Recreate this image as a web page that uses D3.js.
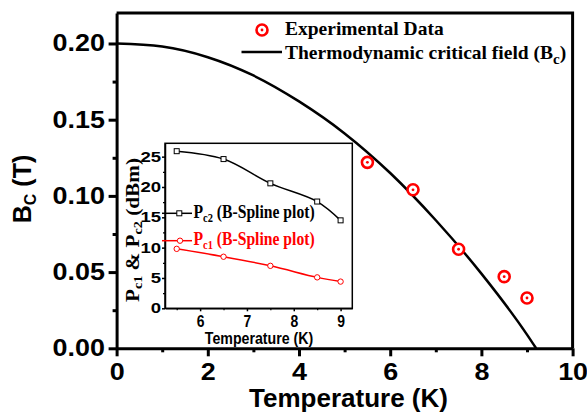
<!DOCTYPE html>
<html>
<head>
<meta charset="utf-8">
<script src="https://cdn.jsdelivr.net/npm/d3@7/dist/d3.min.js"></script>
<style>
  body { margin: 0; background: #fff; }
  .sans { font-family: "Liberation Sans", Arial, sans-serif; font-weight: bold; }
  .serif { font-family: "Liberation Serif", "Times New Roman", serif; font-weight: bold; }
</style>
</head>
<body>
<svg id="chart" width="587" height="418"></svg>
<script>
"use strict";

//data ************************************************************
var tempExp = [5.5, 6.5, 7.5, 8.5, 9.0];
var bcExp = [0.122, 0.104, 0.065, 0.047, 0.033];

var tempFit = [0, 1, 2, 3, 4, 5, 6, 7, 8, 9, 9.2];
var bcFit = [0.200, 0.198, 0.191, 0.179, 0.162, 0.141, 0.115, 0.084, 0.049, 0.009, 0.000];

var tempInset = [5.5, 6.5, 7.5, 8.5, 9.0];
var pc2 = [25.9, 24.6, 20.6, 17.6, 14.5];
var pc1 = [9.8, 8.5, 7.0, 5.1, 4.4];

var xTicks = [0, 2, 4, 6, 8, 10];
var xMinor = [1, 3, 5, 7, 9];
var yTicks = [0, 0.05, 0.10, 0.15, 0.20];
var yMinor = [0.025, 0.075, 0.125, 0.175];
var inXTicks = [6, 7, 8, 9];
var inXMinor = [5.5, 6.5, 7.5, 8.5];
var inYTicks = [0, 5, 10, 15, 20, 25];
var inYMinor = [2.5, 7.5, 12.5, 17.5, 22.5];

//variables ************************************************************
var svg = d3.select("#chart");
var mLeft = 116.6, mRight = 572.6, mTop = 13, mBottom = 348.3;
var x = d3.scaleLinear().domain([0, 10]).range([mLeft, mRight]);
var y = d3.scaleLinear().domain([0, 0.22]).range([mBottom, mTop]);

var iLeft = 165, iRight = 352.3, iTop = 143.3, iBottom = 308.3;
var ix = d3.scaleLinear().domain([5.25, 9.25]).range([iLeft, iRight]);
var iy = d3.scaleLinear().domain([0, 27.2]).range([iBottom, iTop]);

//main frame + axes ************************************************************
svg.append("path")
  .attr("d", "M" + mLeft + "," + mTop + "H" + mRight + "V" + mBottom)
  .attr("fill", "none").attr("stroke", "#000").attr("stroke-width", 3);

function styleAxis(g, w) {
  g.selectAll("path,line").attr("stroke", "#000").attr("stroke-width", w);
}

var gx = svg.append("g").attr("transform", "translate(0," + mBottom + ")")
  .call(d3.axisBottom(x).tickValues(xTicks).tickSize(8).tickSizeOuter(0).tickPadding(7)
    .tickFormat(d3.format("d")));
styleAxis(gx, 3);
gx.selectAll("text").attr("class", "sans").attr("font-size", 23).attr("fill", "#000")
  .attr("transform", "scale(1.17,1)");

svg.append("g").attr("transform", "translate(0," + mBottom + ")")
  .call(d3.axisBottom(x).tickValues(xMinor).tickSize(4).tickFormat(""))
  .call(function(g) { g.select(".domain").remove(); styleAxis(g, 3); });

var gy = svg.append("g").attr("transform", "translate(" + mLeft + ",0)")
  .call(d3.axisLeft(y).tickValues(yTicks).tickSize(8).tickSizeOuter(0).tickPadding(2)
    .tickFormat(d3.format(".2f")));
styleAxis(gy, 3);
gy.selectAll("text").attr("class", "sans").attr("font-size", 23).attr("fill", "#000")
  .attr("transform", "scale(1.17,1)");

svg.append("g").attr("transform", "translate(" + mLeft + ",0)")
  .call(d3.axisLeft(y).tickValues(yMinor).tickSize(4).tickFormat(""))
  .call(function(g) { g.select(".domain").remove(); styleAxis(g, 3); });

svg.append("text").attr("class", "sans").attr("font-size", 26)
  .attr("x", 348.5).attr("y", 407).attr("text-anchor", "middle")
  .text("Temperature (K)");

var yl = svg.append("text").attr("class", "sans").attr("font-size", 25)
  .attr("text-anchor", "middle")
  .attr("transform", "translate(31,189) rotate(-90)");
yl.append("tspan").text("B");
yl.append("tspan").attr("font-size", 16).attr("dy", 5).text("C");
yl.append("tspan").attr("dy", -5).text(" (T)");

//main curve + points ************************************************************
var line = d3.line()
  .x(function(d, i) { return x(tempFit[i]); })
  .y(function(d) { return y(d); })
  .curve(d3.curveMonotoneX);

svg.append("path").datum(bcFit).attr("d", line)
  .attr("fill", "none").attr("stroke", "#000").attr("stroke-width", 2.5);

var pts = svg.selectAll(".exp").data(bcExp).enter().append("g")
  .attr("class", "exp")
  .attr("transform", function(d, i) { return "translate(" + x(tempExp[i]) + "," + y(d) + ")"; });
pts.append("circle").attr("r", 5.5).attr("fill", "#fff").attr("stroke", "#f00").attr("stroke-width", 2.6);
pts.append("circle").attr("r", 1.4).attr("fill", "#f00");

//legend ************************************************************
var lg = svg.append("g").attr("transform", "translate(262,30)");
lg.append("circle").attr("r", 5.5).attr("fill", "#fff").attr("stroke", "#f00").attr("stroke-width", 2.6);
lg.append("circle").attr("r", 1.4).attr("fill", "#f00");
svg.append("line").attr("x1", 241.5).attr("x2", 282).attr("y1", 52).attr("y2", 52)
  .attr("stroke", "#000").attr("stroke-width", 2.5);
svg.append("text").attr("class", "serif").attr("font-size", 19.5)
  .attr("x", 285).attr("y", 35).text("Experimental Data");
var t2 = svg.append("text").attr("class", "serif").attr("font-size", 19.5)
  .attr("x", 285).attr("y", 59);
t2.append("tspan").text("Thermodynamic critical field (B");
t2.append("tspan").attr("font-size", 15).attr("dy", 5).text("c");
t2.append("tspan").attr("dy", -5).text(")");

//inset ************************************************************
var inset = svg.append("g");
inset.append("rect").attr("x", iLeft).attr("y", iTop)
  .attr("width", iRight - iLeft).attr("height", iBottom - iTop)
  .attr("fill", "#fff").attr("stroke", "#000").attr("stroke-width", 1.5);

var igx = inset.append("g").attr("transform", "translate(0," + iBottom + ")")
  .call(d3.axisBottom(ix).tickValues(inXTicks).tickSize(3).tickSizeOuter(0).tickPadding(4)
    .tickFormat(d3.format("d")));
styleAxis(igx, 1.5);
igx.selectAll("text").attr("class", "sans").attr("font-size", 17).attr("fill", "#000")
  .attr("transform", "scale(0.82,1)");
inset.append("g").attr("transform", "translate(0," + iBottom + ")")
  .call(d3.axisBottom(ix).tickValues(inXMinor).tickSize(2).tickFormat(""))
  .call(function(g) { g.select(".domain").remove(); styleAxis(g, 1.2); });

var igy = inset.append("g").attr("transform", "translate(" + iLeft + ",0)")
  .call(d3.axisLeft(iy).tickValues(inYTicks).tickSize(3).tickSizeOuter(0).tickPadding(0)
    .tickFormat(d3.format("d")));
styleAxis(igy, 1.5);
igy.selectAll("text").attr("class", "sans").attr("font-size", 14.5).attr("fill", "#000")
  .attr("transform", "scale(1.28,1)");
inset.append("g").attr("transform", "translate(" + iLeft + ",0)")
  .call(d3.axisLeft(iy).tickValues(inYMinor).tickSize(2).tickFormat(""))
  .call(function(g) { g.select(".domain").remove(); styleAxis(g, 1.2); });

inset.append("text").attr("class", "sans").attr("font-size", 16.5)
  .attr("text-anchor", "middle")
  .attr("transform", "translate(259,344) scale(0.86,1)")
  .text("Temperature (K)");

var iyl = inset.append("text").attr("class", "serif").attr("font-size", 18)
  .attr("text-anchor", "middle")
  .attr("transform", "translate(139,230) rotate(-90) scale(1.18,1)");
iyl.append("tspan").text("P");
iyl.append("tspan").attr("font-size", 12).attr("dy", 3).text("c1");
iyl.append("tspan").attr("dy", -3).text(" & P");
iyl.append("tspan").attr("font-size", 12).attr("dy", 3).text("c2");
iyl.append("tspan").attr("dy", -3).text(" (dBm)");

var iline = d3.line()
  .x(function(d, i) { return ix(tempInset[i]); })
  .y(function(d) { return iy(d); })
  .curve(d3.curveCatmullRom.alpha(0.5));

inset.append("path").datum(pc2).attr("d", iline)
  .attr("fill", "none").attr("stroke", "#000").attr("stroke-width", 1.5);
inset.append("path").datum(pc1).attr("d", iline)
  .attr("fill", "none").attr("stroke", "#f00").attr("stroke-width", 1.5);

inset.selectAll(".sq").data(pc2).enter().append("rect").attr("class", "sq")
  .attr("x", function(d, i) { return ix(tempInset[i]) - 2.5; })
  .attr("y", function(d) { return iy(d) - 2.5; })
  .attr("width", 5).attr("height", 5)
  .attr("fill", "#fff").attr("stroke", "#000").attr("stroke-width", 1);
inset.selectAll(".ci").data(pc1).enter().append("circle").attr("class", "ci")
  .attr("cx", function(d, i) { return ix(tempInset[i]); })
  .attr("cy", function(d) { return iy(d); })
  .attr("r", 2.7).attr("fill", "#fff").attr("stroke", "#f00").attr("stroke-width", 1);

//inset legend ************************************************************
inset.append("line").attr("x1", 162).attr("x2", 192).attr("y1", 213.3).attr("y2", 213.3)
  .attr("stroke", "#000").attr("stroke-width", 1.5);
inset.append("rect").attr("x", 176.8).attr("y", 210.8).attr("width", 5).attr("height", 5)
  .attr("fill", "#fff").attr("stroke", "#000").attr("stroke-width", 1);
inset.append("line").attr("x1", 162).attr("x2", 192).attr("y1", 240.7).attr("y2", 240.7)
  .attr("stroke", "#f00").attr("stroke-width", 1.5);
inset.append("circle").attr("cx", 180).attr("cy", 240.7).attr("r", 2.7)
  .attr("fill", "#fff").attr("stroke", "#f00").attr("stroke-width", 1);

var l2 = inset.append("text").attr("class", "serif").attr("font-size", 18)
  .attr("transform", "translate(193.5,218.3) scale(0.87,1)");
l2.append("tspan").text("P");
l2.append("tspan").attr("font-size", 12).attr("dy", 4).text("c2");
l2.append("tspan").attr("dy", -4).text(" (B-Spline plot)");

var l1 = inset.append("text").attr("class", "serif").attr("font-size", 18).attr("fill", "#f00")
  .attr("transform", "translate(193.5,245) scale(0.87,1)");
l1.append("tspan").text("P");
l1.append("tspan").attr("font-size", 12).attr("dy", 4).text("c1");
l1.append("tspan").attr("dy", -4).text(" (B-Spline plot)");
</script>
</body>
</html>
